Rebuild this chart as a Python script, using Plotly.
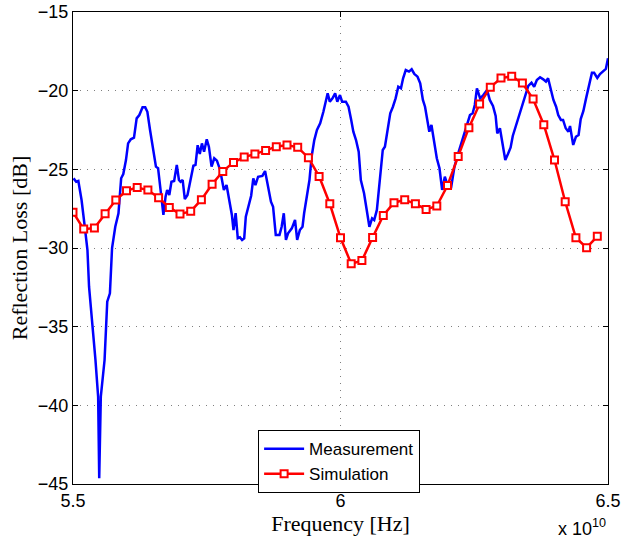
import plotly.graph_objects as go

# Measurement (frequency in GHz, reflection loss in dB)
meas_f = [55.01, 55.06, 55.10, 55.16, 55.22, 55.27, 55.30, 55.36, 55.42, 55.47,
          55.49, 55.52, 55.59, 55.64, 55.69, 55.73, 55.79, 55.85, 55.88, 55.90,
          55.94, 55.99, 56.03, 56.08, 56.14, 56.19, 56.24, 56.30, 56.35, 56.39,
          56.44, 56.50, 56.55, 56.59, 56.64, 56.69, 56.73, 56.76, 56.80, 56.84,
          56.89, 56.94, 56.98, 57.01, 57.05, 57.09, 57.14, 57.20, 57.25, 57.29,
          57.33, 57.37, 57.41, 57.45, 57.50, 57.54, 57.59, 57.64, 57.69, 57.75,
          57.82, 57.87, 57.92, 57.97, 58.00, 58.04, 58.08, 58.12, 58.16, 58.20,
          58.23, 58.28, 58.33, 58.37, 58.41, 58.46, 58.54, 58.59, 58.65, 58.70,
          58.74, 58.79, 58.86, 58.90, 58.94, 58.98, 59.02, 59.09, 59.15, 59.19,
          59.24, 59.29, 59.32, 59.37, 59.42, 59.46, 59.51, 59.56, 59.62, 59.68,
          59.72, 59.76, 59.80, 59.85, 59.90, 59.94, 59.99, 60.03, 60.10, 60.15,
          60.20, 60.24, 60.29, 60.34, 60.38, 60.44, 60.49, 60.54, 60.59, 60.63,
          60.68, 60.73, 60.79, 60.83, 60.87, 60.93, 60.98, 61.03, 61.08, 61.13,
          61.17, 61.22, 61.28, 61.33, 61.38, 61.44, 61.49, 61.54, 61.58, 61.62,
          61.66, 61.70, 61.75, 61.80, 61.85, 61.90, 61.95, 62.00, 62.07, 62.13,
          62.19, 62.25, 62.31, 62.38, 62.42, 62.47, 62.51, 62.55, 62.61, 62.67,
          62.74, 62.79, 62.85, 62.90, 62.93, 62.98, 63.03, 63.08, 63.13, 63.18,
          63.22, 63.29, 63.35, 63.42, 63.47, 63.51, 63.57, 63.62, 63.67, 63.73,
          63.79, 63.84, 63.88, 63.93, 63.98, 64.03, 64.07, 64.12, 64.16, 64.21,
          64.26, 64.29, 64.32, 64.35, 64.40, 64.45, 64.49, 64.54, 64.59, 64.63,
          64.70, 64.74, 64.80, 64.85, 64.91, 64.96, 65.00]
meas_db = [-25.57, -25.79, -25.74, -26.95, -28.65, -30.13, -32.46, -34.58, -37.12, -39.45,
           -44.64, -39.45, -37.12, -33.41, -32.88, -30.00, -28.65, -27.79, -26.74, -25.57,
           -25.30, -24.41, -23.35, -23.09, -22.99, -21.76, -21.55, -21.06, -21.06, -21.34,
           -22.50, -23.66, -24.83, -24.93, -26.52, -27.90, -26.74, -26.31, -26.63, -25.79,
           -25.74, -24.72, -25.68, -25.79, -25.68, -26.89, -26.63, -25.57, -24.77, -24.72,
           -23.47, -24.03, -23.35, -23.88, -23.09, -23.56, -24.83, -24.30, -24.45, -25.04,
           -26.31, -26.00, -26.95, -27.90, -28.86, -27.79, -29.38, -29.32, -29.49, -29.38,
           -28.01, -27.27, -26.68, -25.57, -26.00, -25.47, -25.42, -25.11, -26.10, -27.06,
           -27.38, -29.17, -29.17, -28.65, -27.79, -29.49, -29.07, -28.75, -28.22, -29.49,
           -28.86, -28.65, -27.79, -26.74, -25.68, -24.20, -23.14, -22.50, -22.07, -21.34,
           -20.70, -20.17, -20.70, -20.49, -20.17, -20.70, -20.28, -20.70, -20.70, -21.02,
           -21.86, -22.61, -23.14, -23.88, -25.68, -26.52, -27.58, -28.65, -28.11, -28.22,
           -27.58, -25.79, -23.77, -23.56, -22.71, -21.44, -21.02, -20.49, -19.75, -19.85,
           -19.21, -18.69, -18.79, -18.64, -18.94, -19.11, -19.53, -20.59, -21.02, -21.86,
           -22.61, -22.18, -23.14, -24.30, -24.93, -26.31, -25.47, -26.00, -26.10, -24.83,
           -24.09, -23.45, -22.82, -21.97, -21.55, -21.44, -20.91, -19.85, -20.49, -20.28,
           -19.96, -20.59, -20.97, -21.61, -22.71, -22.39, -23.35, -24.41, -24.03, -23.61,
           -22.88, -22.12, -21.42, -20.59, -20.08, -19.70, -19.49, -19.75, -19.32, -19.15,
           -19.28, -19.43, -19.21, -19.85, -20.59, -21.02, -21.55, -21.86, -21.86, -22.39,
           -22.61, -22.25, -22.93, -23.45, -22.93, -22.82, -21.80, -21.29, -20.49, -19.96,
           -18.86, -18.86, -19.19, -18.94, -18.75, -18.62, -17.94]

# Simulation (frequency in GHz, reflection loss in dB)
sim_f = [55.0, 55.2, 55.4, 55.6, 55.8, 56.0, 56.2, 56.4, 56.6, 56.8,
         57.0, 57.2, 57.4, 57.6, 57.8, 58.0, 58.2, 58.4, 58.6, 58.8,
         59.0, 59.2, 59.4, 59.6, 59.8, 60.0, 60.2, 60.4, 60.6, 60.8,
         61.0, 61.2, 61.4, 61.6, 61.8, 62.0, 62.2, 62.4, 62.6, 62.8,
         63.0, 63.2, 63.4, 63.6, 63.8, 64.0, 64.2, 64.4, 64.6, 64.8]
sim_db = [-27.73, -28.80, -28.73, -27.82, -26.95, -26.36, -26.15, -26.32, -26.80, -27.42,
          -27.84, -27.67, -26.93, -25.95, -25.13, -24.56, -24.22, -24.03, -23.80, -23.56,
          -23.46, -23.60, -24.26, -25.45, -27.19, -29.35, -31.00, -30.80, -29.33, -27.93,
          -27.12, -26.93, -27.19, -27.55, -27.33, -26.03, -24.18, -22.35, -20.85, -19.79,
          -19.20, -19.09, -19.51, -20.53, -22.16, -24.41, -27.06, -29.35, -29.98, -29.26]

x_ticks = [5.5e10, 6.0e10, 6.5e10]
x_tick_labels = ["5.5", "6", "6.5"]
y_ticks = [-45, -40, -35, -30, -25, -20, -15]

fig = go.Figure()
fig.add_trace(go.Scatter(
    x=[f * 1e9 for f in meas_f], y=meas_db, mode="lines", name="Measurement",
    line=dict(color="#0000ff", width=2.5),
))
fig.add_trace(go.Scatter(
    x=[f * 1e9 for f in sim_f], y=sim_db, mode="lines+markers", name="Simulation",
    line=dict(color="#ff0000", width=2.5),
    marker=dict(symbol="square", size=7, color="white",
                line=dict(color="#ff0000", width=2)),
))

axis_common = dict(
    showline=True, linecolor="black", linewidth=1, mirror="ticks",
    ticks="inside", ticklen=5, tickcolor="black",
    showgrid=True, gridcolor="#7f7f7f", griddash="1px,6px", gridwidth=1,
    zeroline=False, automargin=False,
    tickfont=dict(family="Liberation Sans, Arial", size=18, color="black"),
)

fig.update_xaxes(
    range=[5.5e10, 6.5e10], tickvals=x_ticks, ticktext=x_tick_labels,
    title=dict(text="Frequency [Hz]", standoff=2,
               font=dict(family="Liberation Serif, Times New Roman", size=22, color="black")),
    **axis_common,
)
fig.update_yaxes(
    range=[-45, -15], tickvals=y_ticks, ticklabelstandoff=0,
    title=dict(text="Reflection Loss [dB]", standoff=4,
               font=dict(family="Liberation Serif, Times New Roman", size=22, color="black")),
    **axis_common,
)

fig.add_annotation(
    text="x 10<sup>10</sup>", xref="paper", yref="paper", x=1.0, y=-0.064,
    xanchor="right", yanchor="top", showarrow=False,
    font=dict(family="Liberation Sans, Arial", size=18, color="black"),
)

fig.update_layout(
    width=622, height=544,
    margin=dict(l=73, r=14, t=12, b=60),
    paper_bgcolor="white", plot_bgcolor="white",
    showlegend=True,
    legend=dict(
        x=0.346, y=0.114, xanchor="left", yanchor="top",
        bgcolor="white", bordercolor="black", borderwidth=1,
        font=dict(family="Liberation Sans, Arial", size=17, color="black"),
        tracegroupgap=0, itemwidth=40,
    ),
)

# remove the browser's default 8px body margin so the figure sits at (0, 0)
fig.write_html("out.html", config={"displayModeBar": False},
               post_script="document.body.style.margin='0px';")
